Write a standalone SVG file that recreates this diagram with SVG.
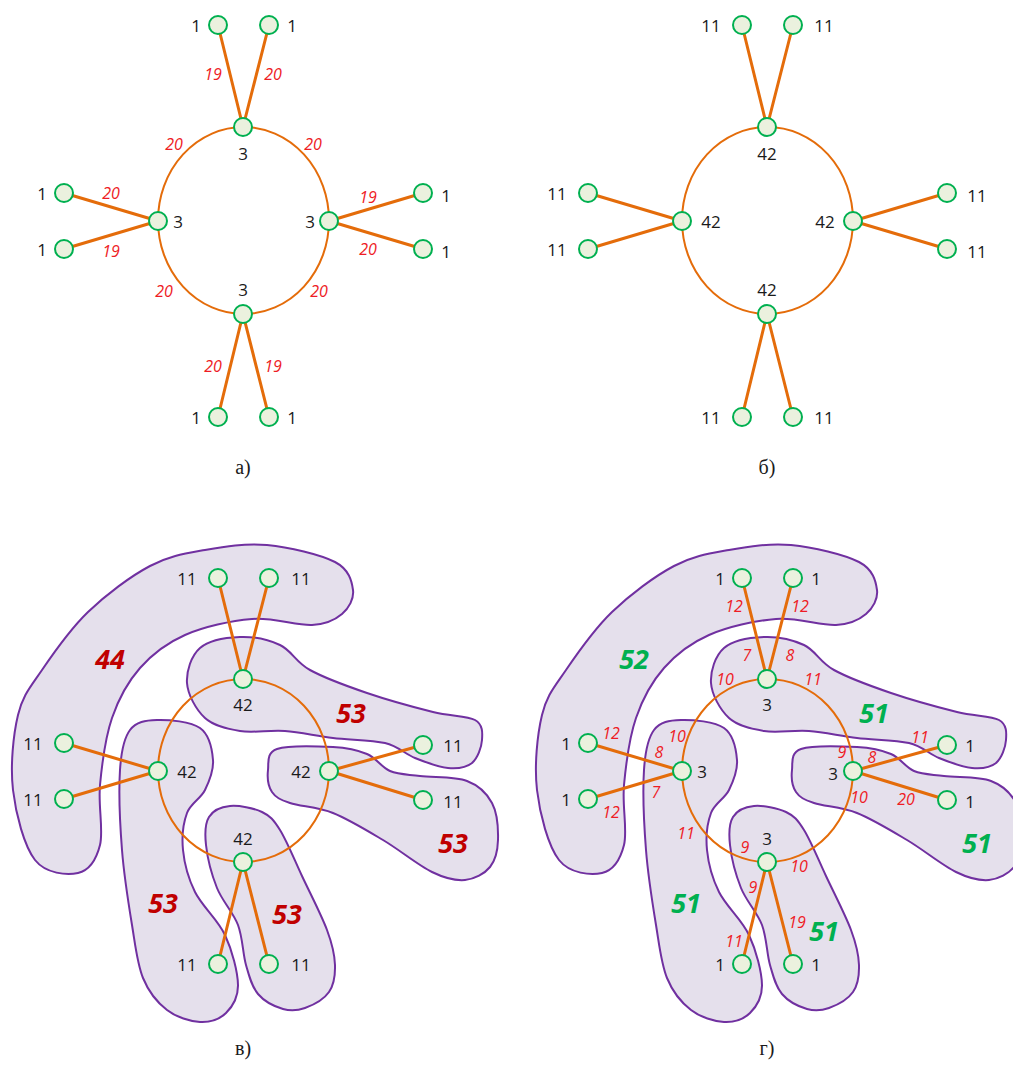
<svg xmlns="http://www.w3.org/2000/svg" xmlns:xlink="http://www.w3.org/1999/xlink" width="1013" height="1066" viewBox="0 0 1013 1066">
  <style>
    .ring { fill: none; stroke: #E46C0A; stroke-width: 2; }
    .spoke { stroke: #E46C0A; stroke-width: 3; stroke-linecap: round; }
    .n { fill: #EBF1DE; stroke: #00B050; stroke-width: 2; }
    .lbl { font-family: "Open Sans", "Liberation Sans", sans-serif; font-size: 17px; fill: #1a1a1a; text-anchor: middle; dominant-baseline: central; }
    .w { font-family: "Open Sans", "Liberation Sans", sans-serif; font-size: 16px; font-style: italic; fill: #EE1C25; text-anchor: middle; dominant-baseline: central; }
    .big { font-family: "Open Sans", "Liberation Sans", sans-serif; font-size: 27px; font-style: italic; font-weight: bold; text-anchor: middle; dominant-baseline: central; }
    .red { fill: #C00000; }
    .grn { fill: #00B050; }
    .blob { fill: #E5E0EC; stroke: #7030A0; stroke-width: 2; }
    .cap { font-family: "Liberation Serif", serif; font-size: 20px; fill: #1a1a1a; text-anchor: middle; dominant-baseline: central; }
  </style>
  <defs>
    <path id="blobArc" class="blob" d="M267,545 C288.7,547 320.7,554.5 335,562 C349.3,569.5 351.8,581.3 353,590 C354.2,598.7 348.8,608.2 342,614 C335.2,619.8 327,624.2 312,625 C297,625.8 273.2,617.3 252,619 C230.8,620.7 203.7,626.8 185,635 C166.3,643.2 152.2,654.2 140,668 C127.8,681.8 118.7,698.5 112,718 C105.3,737.5 102,763.8 100,785 C98,806.2 103.7,830.3 100,845 C96.3,859.7 88.8,870.5 78,873 C67.2,875.5 45.8,873.8 35,860 C24.2,846.2 15.8,814.2 13,790 C10.2,765.8 13.2,735 18,715 C22.8,695 30.3,687.2 42,670 C53.7,652.8 70,629.3 88,612 C106,594.7 130.5,576.3 150,566 C169.5,555.7 185.5,553.5 205,550 C224.5,546.5 245.3,543 267,545 Z"/>
    <path id="blobTop" class="blob" d="M187,683 C186.2,671.3 191.2,655.7 200,648 C208.8,640.3 226.7,637.5 240,637 C253.3,636.5 268.3,639.5 280,645 C291.7,650.5 295.5,662 310,670 C324.5,678 346.5,686 367,693 C387.5,700 415,707.5 433,712 C451,716.5 466.8,715.3 475,720 C483.2,724.7 482.5,732.8 482,740 C481.5,747.2 477.7,758.3 472,763 C466.3,767.7 457.5,768.8 448,768 C438.5,767.2 425.5,762.2 415,758 C404.5,753.8 398.7,746.3 385,743 C371.3,739.7 349.7,740 333,738 C316.3,736 300.5,732.2 285,731 C269.5,729.8 253.3,733.2 240,731 C226.7,728.8 213.8,726 205,718 C196.2,710 187.8,694.7 187,683 Z"/>
    <path id="blobRight" class="blob" d="M268,770 C268.8,762.8 266.2,752.8 277,749 C287.8,745.2 318,746.2 333,747 C348,747.8 357.5,750 367,754 C376.5,758 381.2,767.3 390,771 C398.8,774.7 407.2,774.3 420,776 C432.8,777.7 455,776.5 467,781 C479,785.5 486.8,793.2 492,803 C497.2,812.8 498.3,829.3 498,840 C497.7,850.7 495.5,860.3 490,867 C484.5,873.7 474.7,879.2 465,880 C455.3,880.8 445.7,878.7 432,872 C418.3,865.3 399.5,849.8 383,840 C366.5,830.2 348.5,819.2 333,813 C317.5,806.8 300.2,806.5 290,803 C279.8,799.5 275.7,797.5 272,792 C268.3,786.5 267.2,777.2 268,770 Z"/>
    <path id="blobLeft" class="blob" d="M157,720 C168.7,719.7 190.7,721.3 200,728 C209.3,734.7 212.2,749.7 213,760 C213.8,770.3 209.3,781.2 205,790 C200.7,798.8 190.7,803 187,813 C183.3,823 181.7,836.8 183,850 C184.3,863.2 188,877.8 195,892 C202,906.2 217.8,919.5 225,935 C232.2,950.5 237.8,972 238,985 C238.2,998 232.3,1006.8 226,1013 C219.7,1019.2 209.8,1022.5 200,1022 C190.2,1021.5 176.5,1017.3 167,1010 C157.5,1002.7 148.8,992.2 143,978 C137.2,963.8 135.5,946.3 132,925 C128.5,903.7 124,875.8 122,850 C120,824.2 118.7,790 120,770 C121.3,750 123.8,738.3 130,730 C136.2,721.7 145.3,720.3 157,720 Z"/>
    <path id="blobBottom" class="blob" d="M230,806 C238.8,805.2 253.7,808 262,812 C270.3,816 273.3,819.3 280,830 C286.7,840.7 294.2,859.3 302,876 C309.8,892.7 321.5,915.2 327,930 C332.5,944.8 334.7,954.7 335,965 C335.3,975.3 334,984.8 329,992 C324,999.2 312.7,1005.2 305,1008 C297.3,1010.8 290.8,1011.3 283,1009 C275.2,1006.7 264.2,1001.3 258,994 C251.8,986.7 249.3,976.5 246,965 C242.7,953.5 242.8,937.8 238,925 C233.2,912.2 222.3,901.3 217,888 C211.7,874.7 207.3,856.8 206,845 C204.7,833.2 205,823.5 209,817 C213,810.5 221.2,806.8 230,806 Z"/>
  </defs>

  <!-- Group regions, panels в and г -->
  <g id="regions-v">
    <use xlink:href="#blobArc"/>
    <use xlink:href="#blobTop"/>
    <use xlink:href="#blobRight"/>
    <use xlink:href="#blobLeft"/>
    <use xlink:href="#blobBottom"/>
  </g>
  <g id="regions-g" transform="translate(524,0)">
    <use xlink:href="#blobArc"/>
    <use xlink:href="#blobTop"/>
    <use xlink:href="#blobRight"/>
    <use xlink:href="#blobLeft"/>
    <use xlink:href="#blobBottom"/>
  </g>

  <!-- Connectors -->
  <g id="connectors">
    <ellipse class="ring" cx="243.5" cy="220.5" rx="85.5" ry="93.5"/>
    <line class="spoke" x1="218" y1="25" x2="243" y2="127"/>
    <line class="spoke" x1="269" y1="25" x2="243" y2="127"/>
    <line class="spoke" x1="64" y1="193" x2="158" y2="221"/>
    <line class="spoke" x1="64" y1="249" x2="158" y2="221"/>
    <line class="spoke" x1="423" y1="193" x2="329" y2="221"/>
    <line class="spoke" x1="423" y1="249" x2="329" y2="221"/>
    <line class="spoke" x1="218" y1="417" x2="243" y2="314"/>
    <line class="spoke" x1="269" y1="417" x2="243" y2="314"/>

    <ellipse class="ring" cx="767.5" cy="220.5" rx="85.5" ry="93.5"/>
    <line class="spoke" x1="742" y1="25" x2="767" y2="127"/>
    <line class="spoke" x1="793" y1="25" x2="767" y2="127"/>
    <line class="spoke" x1="588" y1="193" x2="682" y2="221"/>
    <line class="spoke" x1="588" y1="249" x2="682" y2="221"/>
    <line class="spoke" x1="947" y1="193" x2="853" y2="221"/>
    <line class="spoke" x1="947" y1="249" x2="853" y2="221"/>
    <line class="spoke" x1="742" y1="417" x2="767" y2="314"/>
    <line class="spoke" x1="793" y1="417" x2="767" y2="314"/>

    <ellipse class="ring" cx="243.5" cy="770.5" rx="85.5" ry="91.5"/>
    <line class="spoke" x1="218" y1="578" x2="243" y2="679"/>
    <line class="spoke" x1="269" y1="578" x2="243" y2="679"/>
    <line class="spoke" x1="64" y1="743" x2="158" y2="771"/>
    <line class="spoke" x1="64" y1="799" x2="158" y2="771"/>
    <line class="spoke" x1="423" y1="745" x2="329" y2="771"/>
    <line class="spoke" x1="423" y1="800" x2="329" y2="771"/>
    <line class="spoke" x1="218" y1="964" x2="243" y2="862"/>
    <line class="spoke" x1="269" y1="964" x2="243" y2="862"/>

    <ellipse class="ring" cx="767.5" cy="770.5" rx="85.5" ry="91.5"/>
    <line class="spoke" x1="742" y1="578" x2="767" y2="679"/>
    <line class="spoke" x1="793" y1="578" x2="767" y2="679"/>
    <line class="spoke" x1="588" y1="743" x2="682" y2="771"/>
    <line class="spoke" x1="588" y1="799" x2="682" y2="771"/>
    <line class="spoke" x1="947" y1="745" x2="853" y2="771"/>
    <line class="spoke" x1="947" y1="800" x2="853" y2="771"/>
    <line class="spoke" x1="742" y1="964" x2="767" y2="862"/>
    <line class="spoke" x1="793" y1="964" x2="767" y2="862"/>
  </g>

  <!-- Edge weights -->
  <g id="weights-a">
    <text class="w" x="213" y="74">19</text>
    <text class="w" x="273" y="74">20</text>
    <text class="w" x="174" y="144">20</text>
    <text class="w" x="313" y="144">20</text>
    <text class="w" x="111" y="193">20</text>
    <text class="w" x="111" y="251">19</text>
    <text class="w" x="368" y="197">19</text>
    <text class="w" x="368" y="249">20</text>
    <text class="w" x="164" y="291">20</text>
    <text class="w" x="319" y="291">20</text>
    <text class="w" x="213" y="366">20</text>
    <text class="w" x="273" y="366">19</text>
  </g>
  <g id="weights-g">
    <text class="w" x="734" y="606">12</text>
    <text class="w" x="800" y="606">12</text>
    <text class="w" x="747" y="655">7</text>
    <text class="w" x="790" y="655">8</text>
    <text class="w" x="725" y="679">10</text>
    <text class="w" x="813" y="679">11</text>
    <text class="w" x="611" y="733">12</text>
    <text class="w" x="677" y="736">10</text>
    <text class="w" x="659" y="752">8</text>
    <text class="w" x="656" y="792">7</text>
    <text class="w" x="611" y="812">12</text>
    <text class="w" x="842" y="752">9</text>
    <text class="w" x="872" y="757">8</text>
    <text class="w" x="920" y="737">11</text>
    <text class="w" x="859" y="797">10</text>
    <text class="w" x="906" y="799">20</text>
    <text class="w" x="686" y="833">11</text>
    <text class="w" x="745" y="847">9</text>
    <text class="w" x="799" y="866">10</text>
    <text class="w" x="753" y="887">9</text>
    <text class="w" x="797" y="922">19</text>
    <text class="w" x="734" y="941">11</text>
  </g>

  <!-- Region totals -->
  <g id="totals-v">
    <text class="big red" x="110" y="658">44</text>
    <text class="big red" x="351" y="712">53</text>
    <text class="big red" x="453" y="842">53</text>
    <text class="big red" x="163" y="902">53</text>
    <text class="big red" x="287" y="913">53</text>
  </g>
  <g id="totals-g">
    <text class="big grn" x="634" y="658">52</text>
    <text class="big grn" x="874" y="712">51</text>
    <text class="big grn" x="977" y="842">51</text>
    <text class="big grn" x="686" y="902">51</text>
    <text class="big grn" x="824" y="930">51</text>
  </g>

  <!-- Panel а nodes -->
  <g id="a-h1"><circle class="n" cx="243" cy="127" r="9"/><text class="lbl" x="243" y="153">3</text></g>
  <g id="a-h2"><circle class="n" cx="158" cy="221" r="9"/><text class="lbl" x="178" y="221">3</text></g>
  <g id="a-h3"><circle class="n" cx="329" cy="221" r="9"/><text class="lbl" x="310" y="221">3</text></g>
  <g id="a-h4"><circle class="n" cx="243" cy="314" r="9"/><text class="lbl" x="243" y="289">3</text></g>
  <g id="a-l1"><circle class="n" cx="218" cy="25" r="9"/><text class="lbl" x="196" y="25">1</text></g>
  <g id="a-l2"><circle class="n" cx="269" cy="25" r="9"/><text class="lbl" x="292" y="25">1</text></g>
  <g id="a-l3"><circle class="n" cx="64" cy="193" r="9"/><text class="lbl" x="42" y="193">1</text></g>
  <g id="a-l4"><circle class="n" cx="64" cy="249" r="9"/><text class="lbl" x="42" y="249">1</text></g>
  <g id="a-l5"><circle class="n" cx="423" cy="193" r="9"/><text class="lbl" x="446" y="195">1</text></g>
  <g id="a-l6"><circle class="n" cx="423" cy="249" r="9"/><text class="lbl" x="446" y="251">1</text></g>
  <g id="a-l7"><circle class="n" cx="218" cy="417" r="9"/><text class="lbl" x="196" y="417">1</text></g>
  <g id="a-l8"><circle class="n" cx="269" cy="417" r="9"/><text class="lbl" x="292" y="417">1</text></g>

  <!-- Panel б nodes -->
  <g id="b-h1"><circle class="n" cx="767" cy="127" r="9"/><text class="lbl" x="767" y="153">42</text></g>
  <g id="b-h2"><circle class="n" cx="682" cy="221" r="9"/><text class="lbl" x="711" y="221">42</text></g>
  <g id="b-h3"><circle class="n" cx="853" cy="221" r="9"/><text class="lbl" x="825" y="221">42</text></g>
  <g id="b-h4"><circle class="n" cx="767" cy="314" r="9"/><text class="lbl" x="767" y="289">42</text></g>
  <g id="b-l1"><circle class="n" cx="742" cy="25" r="9"/><text class="lbl" x="711" y="25">11</text></g>
  <g id="b-l2"><circle class="n" cx="793" cy="25" r="9"/><text class="lbl" x="824" y="25">11</text></g>
  <g id="b-l3"><circle class="n" cx="588" cy="193" r="9"/><text class="lbl" x="557" y="193">11</text></g>
  <g id="b-l4"><circle class="n" cx="588" cy="249" r="9"/><text class="lbl" x="557" y="249">11</text></g>
  <g id="b-l5"><circle class="n" cx="947" cy="193" r="9"/><text class="lbl" x="977" y="195">11</text></g>
  <g id="b-l6"><circle class="n" cx="947" cy="249" r="9"/><text class="lbl" x="977" y="251">11</text></g>
  <g id="b-l7"><circle class="n" cx="742" cy="417" r="9"/><text class="lbl" x="711" y="417">11</text></g>
  <g id="b-l8"><circle class="n" cx="793" cy="417" r="9"/><text class="lbl" x="824" y="417">11</text></g>

  <!-- Panel в nodes -->
  <g id="v-h1"><circle class="n" cx="243" cy="679" r="9"/><text class="lbl" x="243" y="704">42</text></g>
  <g id="v-h2"><circle class="n" cx="158" cy="771" r="9"/><text class="lbl" x="187" y="771">42</text></g>
  <g id="v-h3"><circle class="n" cx="329" cy="771" r="9"/><text class="lbl" x="301" y="771">42</text></g>
  <g id="v-h4"><circle class="n" cx="243" cy="862" r="9"/><text class="lbl" x="243" y="838">42</text></g>
  <g id="v-l1"><circle class="n" cx="218" cy="578" r="9"/><text class="lbl" x="187" y="578">11</text></g>
  <g id="v-l2"><circle class="n" cx="269" cy="578" r="9"/><text class="lbl" x="301" y="578">11</text></g>
  <g id="v-l3"><circle class="n" cx="64" cy="743" r="9"/><text class="lbl" x="33" y="743">11</text></g>
  <g id="v-l4"><circle class="n" cx="64" cy="799" r="9"/><text class="lbl" x="33" y="799">11</text></g>
  <g id="v-l5"><circle class="n" cx="423" cy="745" r="9"/><text class="lbl" x="453" y="745">11</text></g>
  <g id="v-l6"><circle class="n" cx="423" cy="800" r="9"/><text class="lbl" x="453" y="801">11</text></g>
  <g id="v-l7"><circle class="n" cx="218" cy="964" r="9"/><text class="lbl" x="187" y="964">11</text></g>
  <g id="v-l8"><circle class="n" cx="269" cy="964" r="9"/><text class="lbl" x="301" y="964">11</text></g>

  <!-- Panel г nodes -->
  <g id="g-h1"><circle class="n" cx="767" cy="679" r="9"/><text class="lbl" x="767" y="704">3</text></g>
  <g id="g-h2"><circle class="n" cx="682" cy="771" r="9"/><text class="lbl" x="702" y="771">3</text></g>
  <g id="g-h3"><circle class="n" cx="853" cy="771" r="9"/><text class="lbl" x="833" y="773">3</text></g>
  <g id="g-h4"><circle class="n" cx="767" cy="862" r="9"/><text class="lbl" x="767" y="838">3</text></g>
  <g id="g-l1"><circle class="n" cx="742" cy="578" r="9"/><text class="lbl" x="720" y="578">1</text></g>
  <g id="g-l2"><circle class="n" cx="793" cy="578" r="9"/><text class="lbl" x="816" y="578">1</text></g>
  <g id="g-l3"><circle class="n" cx="588" cy="743" r="9"/><text class="lbl" x="566" y="743">1</text></g>
  <g id="g-l4"><circle class="n" cx="588" cy="799" r="9"/><text class="lbl" x="566" y="799">1</text></g>
  <g id="g-l5"><circle class="n" cx="947" cy="745" r="9"/><text class="lbl" x="970" y="745">1</text></g>
  <g id="g-l6"><circle class="n" cx="947" cy="800" r="9"/><text class="lbl" x="970" y="801">1</text></g>
  <g id="g-l7"><circle class="n" cx="742" cy="964" r="9"/><text class="lbl" x="720" y="964">1</text></g>
  <g id="g-l8"><circle class="n" cx="793" cy="964" r="9"/><text class="lbl" x="816" y="964">1</text></g>

  <!-- Panel captions -->
  <g id="captions">
    <text class="cap" x="243" y="467">а)</text>
    <text class="cap" x="767" y="467">б)</text>
    <text class="cap" x="243" y="1048">в)</text>
    <text class="cap" x="767" y="1048">г)</text>
  </g>
</svg>
